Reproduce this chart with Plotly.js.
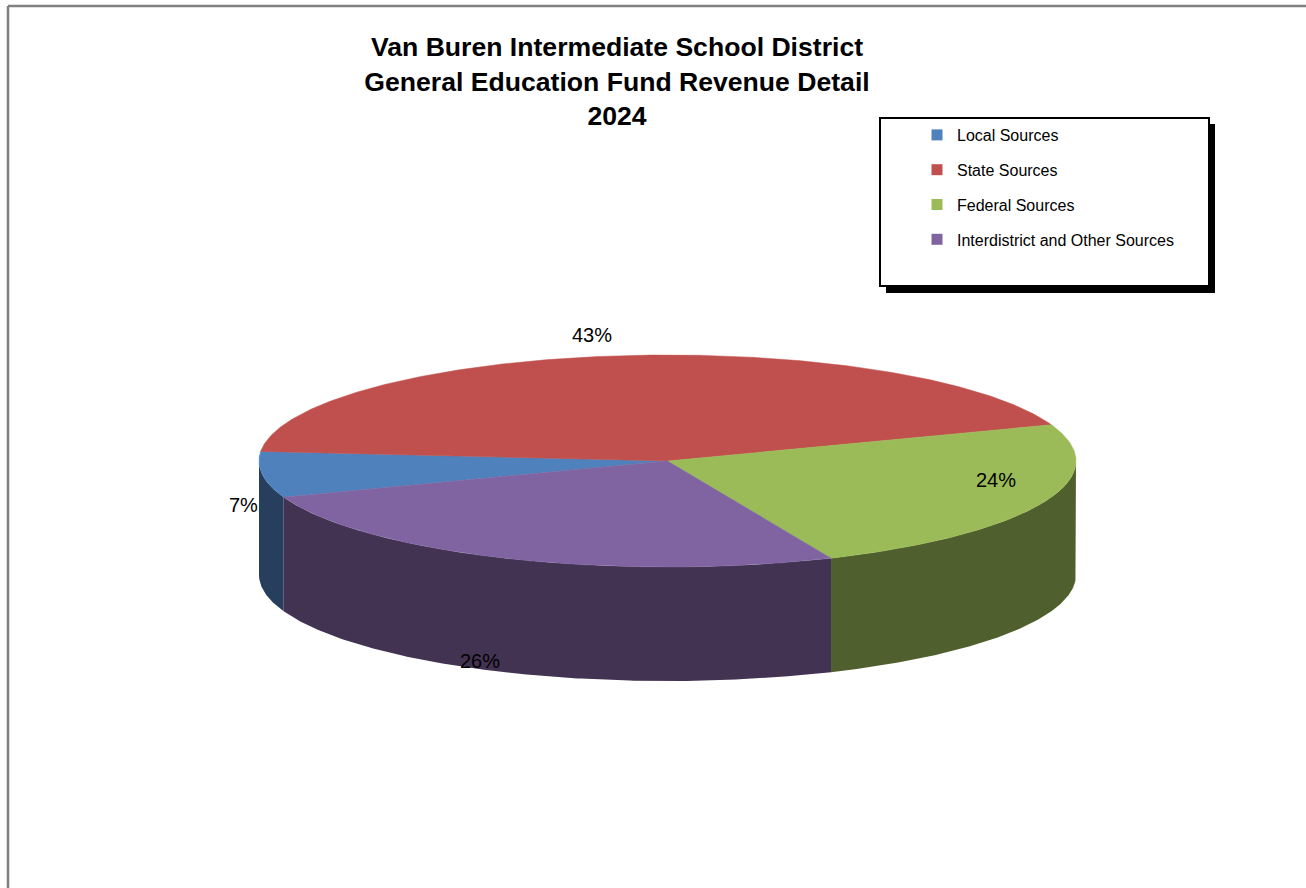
<!DOCTYPE html>
<html>
<head>
<meta charset="utf-8">
<script src="https://cdn.plot.ly/plotly-3.0.1.min.js"></script>
<style>html,body{margin:0;padding:0;background:#fff;}#chart{width:1306px;height:888px;}</style>
</head>
<body>
<div id="chart"></div>
<script>
// ---- data ----
const categories = ['Local Sources', 'State Sources', 'Federal Sources', 'Interdistrict and Other Sources'];
const values = [7, 43, 24, 26];
const chartTitle = ['Van Buren Intermediate School District', 'General Education Fund Revenue Detail', '2024'];

// ---- styles / geometry ----
const topColors = ['#4f81bd', '#c0504d', '#9bbb59', '#8064a2'];
const sideColors = ['#273e5d', '#6e2d2c', '#4f5f2d', '#433352'];
const FONT = 'Liberation Sans, Arial, sans-serif';
const CX = 667.5, CY = 461, RX = 408.5, RY = 106, DEPTH = 114, START = 200;
const labelOffsets = [[-19, 30], [-23, -21], [-47, -23], [-27, 103]];

const total = values.reduce((a, b) => a + b, 0);
const rad = d => d * Math.PI / 180;
function pt(a, dy) { return [CX + RX * Math.cos(rad(a)), CY - RY * Math.sin(rad(a)) + (dy || 0)]; }
function arc(a0, a1, dy) {
  const n = Math.max(2, Math.ceil(Math.abs(a1 - a0) * 2));
  const out = [];
  for (let i = 0; i <= n; i++) out.push(pt(a0 + (a1 - a0) * i / n, dy));
  return out;
}

const sideTraces = [], topTraces = [], legendTraces = [], annotations = [];
let cum = 0;
values.forEach((v, i) => {
  const a0 = START - cum / total * 360;
  const a1 = a0 - v / total * 360;
  cum += v;
  // side wall (front half only: angles in [-180, 0])
  [-360, 0, 360].forEach(k => {
    const lo = Math.max(a1 + k, -180), hi = Math.min(a0 + k, 0);
    if (lo < hi) {
      const pts = arc(lo, hi, 0).concat(arc(hi, lo, DEPTH));
      pts.push(pts[0]);
      sideTraces.push({
        type: 'scatter', mode: 'lines', fill: 'toself',
        x: pts.map(p => p[0]), y: pts.map(p => p[1]),
        fillcolor: sideColors[i], line: {width: 0, color: sideColors[i]},
        showlegend: false, hoverinfo: 'skip'
      });
    }
  });
  // top face
  const tp = [[CX, CY]].concat(arc(a0, a1, 0));
  tp.push([CX, CY]);
  topTraces.push({
    type: 'scatter', mode: 'lines', fill: 'toself',
    x: tp.map(p => p[0]), y: tp.map(p => p[1]),
    fillcolor: topColors[i], line: {width: 0.5, color: topColors[i]},
    showlegend: false, hoverinfo: 'skip'
  });
  // legend entry
  legendTraces.push({
    type: 'scatter', mode: 'markers', x: [null], y: [null], name: categories[i],
    legendgroup: 'g' + i, marker: {symbol: 'square', size: 11, color: topColors[i]},
    hoverinfo: 'skip'
  });
  // percent label
  const mid = (a0 + a1) / 2;
  const p = pt(mid, 0);
  annotations.push({
    x: p[0] + labelOffsets[i][0], y: p[1] + labelOffsets[i][1], xref: 'x', yref: 'y',
    text: Math.round(v / total * 100) + '%', showarrow: false,
    font: {family: FONT, size: 20, color: '#000'}, xanchor: 'center', yanchor: 'middle'
  });
});

const shapes = [
  // chart frame
  {type: 'line', xref: 'x', yref: 'y', x0: 8, x1: 8, y0: 6, y1: 888, line: {color: '#808080', width: 2.5}},
  {type: 'line', xref: 'x', yref: 'y', x0: 8, x1: 1306, y0: 6, y1: 6, line: {color: '#808080', width: 2.5}},
  // legend shadow and box
  {type: 'rect', xref: 'x', yref: 'y', x0: 886, x1: 1215, y0: 124, y1: 293, fillcolor: '#000', line: {width: 0}, layer: 'above'},
  {type: 'rect', xref: 'x', yref: 'y', x0: 880, x1: 1209, y0: 118, y1: 286, fillcolor: '#fff', line: {color: '#000', width: 2}, layer: 'above'}
];

const layout = {
  width: 1306, height: 888,
  margin: {l: 0, r: 0, t: 0, b: 0},
  paper_bgcolor: '#fff', plot_bgcolor: '#fff',
  xaxis: {range: [0, 1306], visible: false, fixedrange: true},
  yaxis: {range: [888, 0], visible: false, fixedrange: true},
  title: {
    text: '<b>' + chartTitle.join('<br>') + '</b>',
    font: {family: FONT, size: 26.6, color: '#000'},
    x: 617 / 1306, xanchor: 'center', xref: 'paper',
    y: 1 - 56 / 888, yanchor: 'top', yref: 'container'
  },
  showlegend: true,
  legend: {
    x: 917 / 1306, xanchor: 'left', y: 1 - 118 / 888, yanchor: 'top',
    bgcolor: 'rgba(0,0,0,0)', borderwidth: 0,
    font: {family: FONT, size: 16, color: '#000'},
    tracegroupgap: 11, traceorder: 'grouped'
  },
  shapes: shapes,
  annotations: annotations,
  hovermode: false
};

Plotly.newPlot('chart', sideTraces.concat(topTraces, legendTraces), layout, {displayModeBar: false, staticPlot: true});
</script>
</body>
</html>
